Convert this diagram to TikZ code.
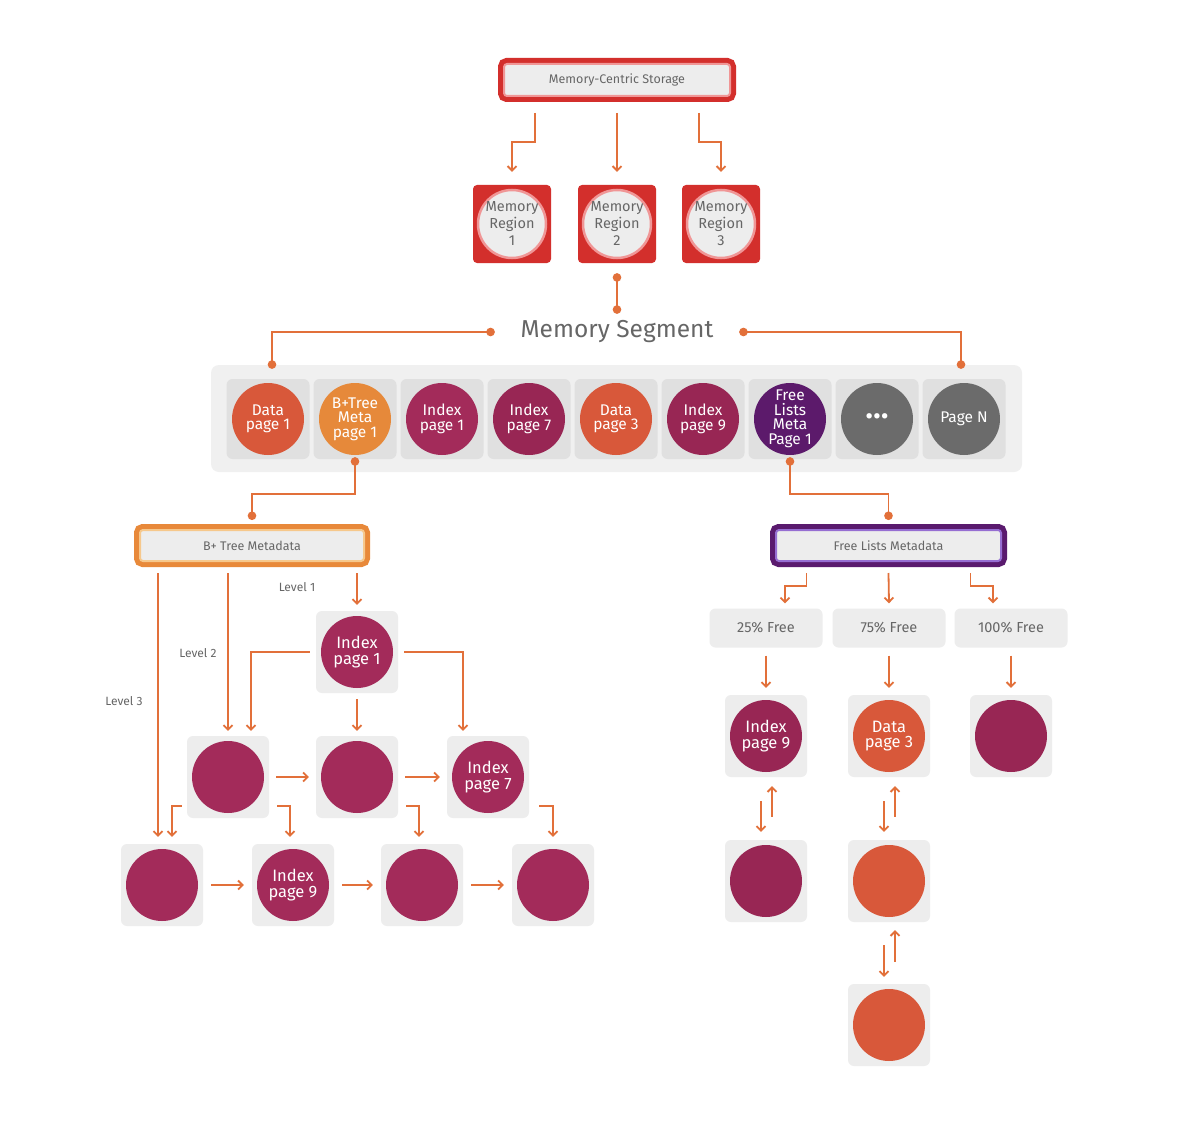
\documentclass[tikz,border=0pt]{standalone}
\usepackage{fontspec}
\setmainfont{Fira Sans}
\usetikzlibrary{positioning,arrows.meta}
\definecolor{linkorange}{RGB}{226,112,58}
\definecolor{memred}{RGB}{211,47,44}
\definecolor{memline}{RGB}{240,150,150}
\definecolor{panel}{RGB}{237,237,237}
\definecolor{strip}{RGB}{240,240,240}
\definecolor{slot}{RGB}{224,224,224}
\definecolor{labelgray}{RGB}{102,102,102}
\definecolor{datapage}{RGB}{216,88,58}
\definecolor{metapage}{RGB}{230,137,58}
\definecolor{indexpage}{RGB}{163,43,90}
\definecolor{indexdark}{RGB}{152,38,84}
\definecolor{listpage}{RGB}{92,26,107}
\definecolor{otherpage}{RGB}{107,107,107}
\definecolor{btreeorange}{RGB}{232,137,58}
\definecolor{btreeline}{RGB}{246,200,140}
\definecolor{listframe}{RGB}{90,26,110}
\definecolor{listline}{RGB}{150,110,210}

\tikzset{
  link/.style={->, >={Straight Barb[length=4.5pt,width=9pt]}, line width=1.8pt, draw=linkorange},
  dotlink/.style={{Circle[length=8.5pt]}-{Circle[length=8.5pt]}, line width=1.8pt, draw=linkorange},
  framed/.style 2 args={rectangle, rounded corners=3pt, fill=panel, draw=#2, line width=2pt,
    preaction={draw=#1, line width=12pt}, minimum width=225pt, minimum height=31pt,
    outer sep=6pt, font=\fontsize{12.5}{14}\selectfont, text=labelgray},
  regioncell/.style={rectangle, rounded corners=4pt, fill=memred, minimum size=78pt,
    align=center, text=labelgray, font=\fontsize{14.5}{17}\selectfont,
    path picture={\filldraw[fill=panel, draw=memline, line width=2.5pt]
      (path picture bounding box.center) circle[radius=34pt];}},
  pagecell/.style={rectangle, rounded corners=6pt, fill=slot, minimum width=83pt, minimum height=80pt,
    align=center, text=white, font=\fontsize{15.5}{14.5}\selectfont,
    path picture={\fill[#1] (path picture bounding box.center) circle[radius=36pt];}},
  treecell/.style={rectangle, rounded corners=6pt, fill=panel, minimum size=82pt,
    align=center, text=white, font=\fontsize{16.5}{15.5}\selectfont,
    path picture={\fill[#1] (path picture bounding box.center) circle[radius=36pt];}},
  freebox/.style={rectangle, rounded corners=6pt, fill=panel, minimum width=113pt, minimum height=39pt,
    text=labelgray, font=\fontsize{14.5}{16}\selectfont},
  levellabel/.style={text=labelgray, font=\fontsize{12}{14}\selectfont}
}

\begin{document}
\begin{tikzpicture}[x=1pt, y=-1pt]
  \useasboundingbox[fill=white] (0,0) rectangle (1200,1137);

  \node[framed={memred}{memline}, minimum width=226pt, minimum height=32pt] (storage) at (617,80) {Memory-Centric Storage};

  \node[regioncell] (reg1) at (512,224) {Memory\\Region\\1};
  \node[regioncell] (reg2) at (617,224) {Memory\\Region\\2};
  \node[regioncell] (reg3) at (721,224) {Memory\\Region\\3};

  \draw[link] ([xshift=-82pt,yshift=-11pt]storage.south) -- ++(0,29) -| ([yshift=13pt]reg1.north);
  \draw[link] ([yshift=-11pt]storage.south) -- ([yshift=13pt]reg2.north);
  \draw[link] ([xshift=82pt,yshift=-11pt]storage.south) -- ++(0,29) -| ([yshift=13pt]reg3.north);

  \node[text=labelgray, font=\fontsize{24.5}{28}\selectfont, minimum width=236pt, minimum height=44pt, inner sep=0pt] (seglabel) at (617,332) {Memory Segment};

  \node[rectangle, rounded corners=8pt, fill=strip, minimum width=811pt, minimum height=107pt] (strip) at (616.5,418.5) {};
  \node[pagecell=datapage] (p1) at (268,419) {Data\\page 1};
  \node[pagecell=metapage] (p2) at (355,419) {B+Tree\\Meta\\page 1};
  \node[pagecell=indexpage] (p3) at (442,419) {Index\\page 1};
  \node[pagecell=indexdark] (p4) at (529,419) {Index\\page 7};
  \node[pagecell=datapage] (p5) at (616,419) {Data\\page 3};
  \node[pagecell=indexdark] (p6) at (703,419) {Index\\page 9};
  \node[pagecell=listpage] (p7) at (790,419) {Free\\Lists\\Meta\\Page 1};
  \node[pagecell=otherpage, font=\fontsize{24}{24}\selectfont] (p8) at (877,419) {•••};
  \node[pagecell=otherpage] (p9) at (964,419) {Page N};

  \draw[dotlink] ([yshift=-10pt]reg2.south) -- ([yshift=-4pt]seglabel.north);
  \draw[dotlink] ([xshift=-4pt]seglabel.west) -| ([xshift=4pt,yshift=-4pt]strip.north -| p1);
  \draw[dotlink] ([xshift=4pt]seglabel.east) -| ([xshift=-3pt,yshift=-4pt]strip.north -| p9);

  \node[framed={btreeorange}{btreeline}, minimum width=224pt] (btree) at (252,545.5) {B+ Tree Metadata};
  \node[framed={listframe}{listline}, minimum width=225pt] (flist) at (888.5,545.5) {Free Lists Metadata};

  \draw[dotlink] ([yshift=2pt]p2.south) -- ++(0,37) -| ([yshift=4pt]btree.north);
  \draw[dotlink] ([yshift=2pt]p7.south) -- ++(0,37) -| ([yshift=4pt]flist.north);

  \node[levellabel] (lvl1) at (297,587) {Level 1};
  \node[levellabel] (lvl2) at (198,653) {Level 2};
  \node[levellabel] (lvl3) at (124,701) {Level 3};

  \node[treecell=indexpage] (t1) at (357,652) {Index\\page 1};
  \node[treecell=indexpage] (t2a) at (228,777) {};
  \node[treecell=indexpage] (t2b) at (357,777) {};
  \node[treecell=indexpage] (t2c) at (488,777) {Index\\page 7};
  \node[treecell=indexpage] (t3a) at (162,885) {};
  \node[treecell=indexpage] (t3b) at (293,885) {Index\\page 9};
  \node[treecell=indexpage] (t3c) at (422,885) {};
  \node[treecell=indexpage] (t3d) at (553,885) {};

  \draw[link] ([xshift=105pt,yshift=-6pt]btree.south) -- ([yshift=6pt]t1.north);
  \draw[link] ([xshift=-24pt,yshift=-6pt]btree.south) -- ([yshift=5pt]t2a.north);
  \draw[link] ([xshift=-94pt,yshift=-6pt]btree.south) -- ([xshift=-4pt,yshift=7pt]t3a.north);

  \draw[link] ([xshift=-6pt]t1.west) -| ([xshift=23pt,yshift=5pt]t2a.north);
  \draw[link] ([yshift=-6pt]t1.south) -- ([yshift=5pt]t2b.north);
  \draw[link] ([xshift=6pt]t1.east) -| ([xshift=-25pt,yshift=5pt]t2c.north);

  \draw[link] ([xshift=7pt]t2a.east) -- ([xshift=-7pt]t2b.west);
  \draw[link] ([xshift=7pt]t2b.east) -- ([xshift=-7pt]t2c.west);

  \draw[link] ([xshift=-5pt,yshift=12pt]t2a.south west) -| ([xshift=10pt,yshift=7pt]t3a.north);
  \draw[link] ([xshift=8pt,yshift=12pt]t2a.south east) -| ([xshift=-3pt,yshift=7pt]t3b.north);
  \draw[link] ([xshift=8pt,yshift=12pt]t2b.south east) -| ([xshift=-3pt,yshift=7pt]t3c.north);
  \draw[link] ([xshift=10pt,yshift=12pt]t2c.south east) -| ([yshift=7pt]t3d.north);

  \draw[link] ([xshift=8pt]t3a.east) -- ([xshift=-8pt]t3b.west);
  \draw[link] ([xshift=8pt]t3b.east) -- ([xshift=-8pt]t3c.west);
  \draw[link] ([xshift=8pt]t3c.east) -- ([xshift=-8pt]t3d.west);

  \node[freebox] (f25) at (766,628) {25\% Free};
  \node[freebox] (f75) at (889,628) {75\% Free};
  \node[freebox] (f100) at (1011,628) {100\% Free};

  \draw[link] ([xshift=-82pt,yshift=-6pt]flist.south) -- ++(0,13) -| ([xshift=19pt,yshift=5pt]f25.north);
  \draw[link] ([yshift=-6pt]flist.south) -- ([yshift=5pt]f75.north);
  \draw[link] ([xshift=82pt,yshift=-6pt]flist.south) -- ++(0,13) -| ([xshift=-18pt,yshift=5pt]f100.north);

  \node[treecell=indexdark] (fa1) at (766,736) {Index\\page 9};
  \node[treecell=datapage] (fb1) at (889,736) {Data\\page 3};
  \node[treecell=indexdark] (fc1) at (1011,736) {};
  \node[treecell=indexdark] (fa2) at (766,881) {};
  \node[treecell=datapage] (fb2) at (889,881) {};
  \node[treecell=datapage] (fb3) at (889,1025) {};

  \draw[link] ([yshift=-8pt]f25.south) -- ([yshift=7pt]fa1.north);
  \draw[link] ([yshift=-8pt]f75.south) -- ([yshift=7pt]fb1.north);
  \draw[link] ([yshift=-8pt]f100.south) -- ([yshift=7pt]fc1.north);

  \draw[link] ([xshift=-5pt,yshift=-24pt]fa1.south) -- ([xshift=-5pt,yshift=8pt]fa2.north);
  \draw[link] ([xshift=6pt,yshift=23pt]fa2.north) -- ([xshift=6pt,yshift=-9pt]fa1.south);
  \draw[link] ([xshift=-5pt,yshift=-24pt]fb1.south) -- ([xshift=-5pt,yshift=8pt]fb2.north);
  \draw[link] ([xshift=6pt,yshift=23pt]fb2.north) -- ([xshift=6pt,yshift=-9pt]fb1.south);
  \draw[link] ([xshift=-5pt,yshift=-23pt]fb2.south) -- ([xshift=-5pt,yshift=7pt]fb3.north);
  \draw[link] ([xshift=6pt,yshift=22pt]fb3.north) -- ([xshift=6pt,yshift=-8pt]fb2.south);
\end{tikzpicture}
\end{document}
